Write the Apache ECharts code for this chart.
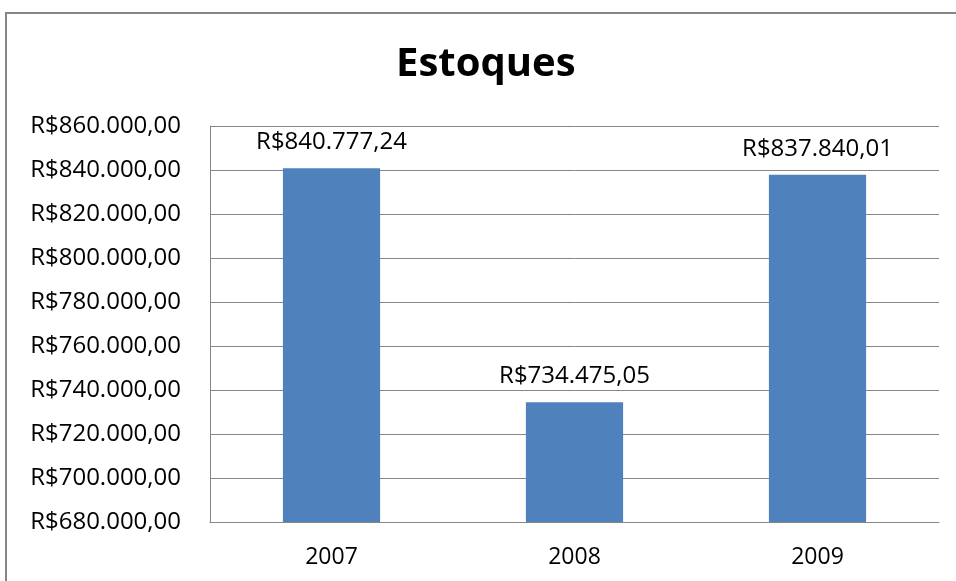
<!DOCTYPE html>
<html>
<head>
<meta charset="utf-8">
<script src="https://cdn.jsdelivr.net/npm/echarts@6/dist/echarts.min.js"></script>
<style>
  html, body { margin: 0; padding: 0; background: #fff; }
  #chart { width: 956px; height: 581px; }
</style>
</head>
<body>
<div id="chart"></div>
<script>
// dados do gráfico
const anos = ['2007', '2008', '2009']
const estoques = [840777.24, 734475.05, 837840.01]

// formata no padrão brasileiro: R$840.777,24
function brl (v) {
  const partes = v.toFixed(2).split('.')
  const inteiro = partes[0].replace(/\B(?=(\d{3})+(?!\d))/g, '.')
  return 'R$' + inteiro + ',' + partes[1]
}

const fonte = '"Open Sans", "Noto Sans", sans-serif'

const myChart = echarts.init(document.getElementById('chart'))

myChart.setOption({
  animation: false,
  title: {
    text: 'Estoques',
    left: 396,
    top: 45,
    padding: 0,
    textStyle: { fontFamily: fonte, fontSize: 40, fontWeight: 'bold', color: '#000' }
  },
  graphic: [{
    type: 'rect',
    shape: { x: 6, y: 13, width: 980, height: 600 },
    style: { fill: 'none', stroke: '#868686', lineWidth: 2 }
  }],
  grid: { left: 210, right: 17, top: 126, bottom: 59 },
  xAxis: {
    type: 'category',
    data: anos,
    axisLine: { lineStyle: { color: '#868686' } },
    axisTick: { show: false },
    axisLabel: { color: '#000', fontFamily: fonte, fontSize: 23, margin: 24 }
  },
  yAxis: {
    type: 'value',
    min: 680000,
    max: 860000,
    interval: 20000,
    axisLine: { show: true, lineStyle: { color: '#868686' } },
    axisTick: { show: false },
    splitLine: { lineStyle: { color: '#868686' } },
    axisLabel: { color: '#000', fontFamily: fonte, fontSize: 24, margin: 29, formatter: brl }
  },
  series: [{
    type: 'bar',
    data: estoques,
    barWidth: '40%',
    itemStyle: { color: '#4F81BD' },
    label: {
      show: true,
      position: 'top',
      distance: 14,
      color: '#000',
      fontFamily: fonte,
      fontSize: 24,
      formatter: p => brl(p.value)
    }
  }]
})
</script>
</body>
</html>
